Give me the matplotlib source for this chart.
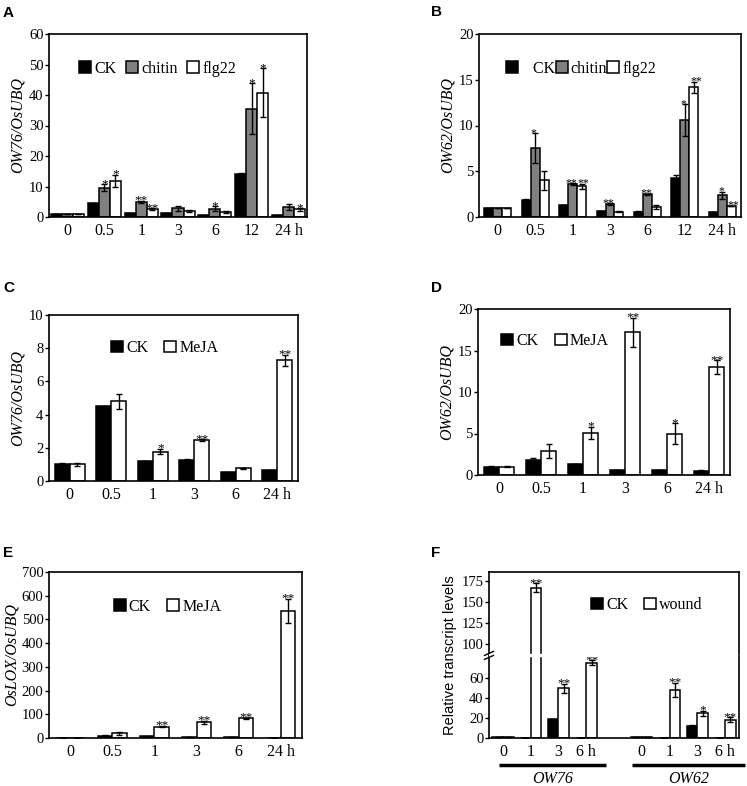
import numpy as np
import matplotlib
matplotlib.use("Agg")
import matplotlib.pyplot as plt

plt.rcParams['font.family'] = ['Liberation Serif', 'DejaVu Serif']

W, H = 747, 786

# ---------------- data ----------------
timesA = ["0", "0.5", "1", "3", "6", "12", "24 h"]
A_ck = [1.0, 4.5, 1.2, 1.3, 0.5, 14.1, 0.5]
A_ck_err = [0.1, 0.1, 0.1, 0.15, 0.05, 0.2, 0.05]
A_chitin = [1.0, 9.6, 4.9, 2.8, 2.7, 35.5, 3.3]
A_chitin_err = [0.1, 1.2, 0.4, 0.8, 0.8, 8.3, 1.0]
A_flg22 = [1.0, 11.9, 2.5, 1.9, 1.6, 40.8, 2.5]
A_flg22_err = [0.1, 1.9, 0.3, 0.3, 0.4, 8.0, 0.4]
A_chitin_sig = ["", "*", "**", "", "*", "*", ""]
A_flg22_sig = ["", "*", "**", "", "", "*", "*"]

B_ck = [1.0, 1.85, 1.3, 0.65, 0.6, 4.3, 0.55]
B_ck_err = [0.03, 0.15, 0.05, 0.03, 0.03, 0.25, 0.03]
B_chitin = [1.0, 7.55, 3.6, 1.4, 2.5, 10.55, 2.35]
B_chitin_err = [0.03, 1.6, 0.1, 0.1, 0.05, 1.75, 0.4]
B_flg22 = [1.0, 4.0, 3.35, 0.6, 1.1, 14.2, 1.2]
B_flg22_err = [0.03, 1.0, 0.25, 0.03, 0.2, 0.6, 0.05]
B_chitin_sig = ["", "*", "**", "**", "**", "*", "*"]
B_flg22_sig = ["", "", "**", "", "", "**", "**"]

timesC = ["0", "0.5", "1", "3", "6", "24 h"]
C_ck = [1.0, 4.5, 1.2, 1.27, 0.52, 0.66]
C_ck_err = [0.08, 0.03, 0.02, 0.07, 0.04, 0.03]
C_meja = [1.0, 4.8, 1.77, 2.45, 0.76, 7.27]
C_meja_err = [0.1, 0.45, 0.17, 0.07, 0.03, 0.35]
C_meja_sig = ["", "", "*", "**", "", "**"]

D_ck = [1.0, 1.8, 1.33, 0.6, 0.6, 0.52]
D_ck_err = [0.03, 0.2, 0.05, 0.03, 0.03, 0.03]
D_meja = [1.0, 2.9, 5.06, 17.2, 5.0, 13.0]
D_meja_err = [0.03, 0.85, 0.75, 1.75, 1.25, 0.8]
D_meja_sig = ["", "", "*", "**", "*", "**"]

E_ck = [1, 10, 7, 3, 3, 1]
E_ck_err = [0, 1, 1, 0.5, 0.5, 0]
E_meja = [1, 19, 48, 66, 84, 536]
E_meja_err = [0, 5, 3, 6, 2, 52]
E_meja_sig = ["", "", "**", "**", "**", "**"]

F_pos = [0, 1, 2, 3, 5, 6, 7, 8]
F_labels = ["0", "1", "3", "6 h", "0", "1", "3", "6 h"]
F_genes = ["OW76", "OW62"]
F_ck = [0.5, 0.3, 18.5, 0.3, 0.5, 0.3, 11.9, 0.3]
F_ck_err = [0, 0, 0.6, 0, 0, 0, 0.6, 0]
F_wound = [0.5, 167.5, 49.5, 74.6, 0.5, 47.9, 24.8, 18.2]
F_wound_err = [0, 5, 4.6, 2.5, 0, 7, 2.5, 2.5]
F_wound_sig = ["", "**", "**", "**", "", "**", "*", "**"]

GRAY = "#808080"


def px_rect(l, t, r, b):
    return [l / W, 1 - b / H, (r - l) / W, (b - t) / H]


def style(ax, ylim, yticks):
    ax.set_ylim(*ylim)
    ax.set_yticks(yticks)
    ax.tick_params(axis='y', direction='out', length=3, width=1, labelsize=10.5, pad=1)
    ax.tick_params(axis='x', length=0, labelsize=11.5, pad=4)
    for s in ax.spines.values():
        s.set_linewidth(1.2)


def draw_bars(ax, x, series, errs, colors, labels, sigs, width, star_dx=None, star_fs=9.5):
    n = len(series)
    x = np.asarray(x, dtype=float)
    if star_dx is None:
        star_dx = [0] * n
    for i in range(n):
        off = (i - (n - 1) / 2) * width
        ax.bar(x + off, series[i], width, yerr=errs[i], color=colors[i],
               edgecolor='black', linewidth=1.1, label=labels[i],
               error_kw=dict(elinewidth=1, capsize=2.5, capthick=1, ecolor='black'))
        if sigs[i] is None:
            continue
        for xi, v, e, s in zip(x + off, series[i], errs[i], sigs[i]):
            if s:
                ax.annotate(s, (xi, v + e), xytext=(star_dx[i], -2), textcoords='offset points',
                            ha='center', va='baseline', fontsize=star_fs)


def legend(ax, cx, cy, cs=1.0):
    ax.legend(loc='center', bbox_to_anchor=(cx, cy), ncol=3, frameon=False,
              fontsize=11.5, handlelength=0.75, handleheight=0.75, handletextpad=0.2,
              columnspacing=cs, borderpad=0)


fig = plt.figure(figsize=(W / 100, H / 100), dpi=100)

# ---- A ----
ax = fig.add_axes(px_rect(49, 34, 307, 217))
draw_bars(ax, range(7), [A_ck, A_chitin, A_flg22], [A_ck_err, A_chitin_err, A_flg22_err],
          ['black', GRAY, 'white'], ['CK', 'chitin', 'flg22'],
          [None, A_chitin_sig, A_flg22_sig], 0.3)
ax.set_xlim(-0.5, 6.5)
ax.set_xticks(range(7), timesA)
style(ax, (0, 60), range(0, 61, 10))
ax.set_ylabel("OW76/OsUBQ", style='italic', fontsize=11.5, labelpad=2)
legend(ax, 0.42, 0.81, 0.6)

# ---- B ----
ax = fig.add_axes(px_rect(479, 34, 741, 217))
draw_bars(ax, range(7), [B_ck, B_chitin, B_flg22], [B_ck_err, B_chitin_err, B_flg22_err],
          ['black', GRAY, 'white'], ['   CK', 'chitin', 'flg22'],
          [None, B_chitin_sig, B_flg22_sig], 0.24, star_dx=[0, -1, 1.5], star_fs=8.5)
ax.set_xlim(-0.5, 6.5)
ax.set_xticks(range(7), timesA)
style(ax, (0, 20), range(0, 21, 5))
ax.set_ylabel("OW62/OsUBQ", style='italic', fontsize=11.5, labelpad=2)
legend(ax, 0.39, 0.81, 0.0)

# ---- C ----
ax = fig.add_axes(px_rect(49, 315, 298, 481))
draw_bars(ax, range(6), [C_ck, C_meja], [C_ck_err, C_meja_err],
          ['black', 'white'], ['CK', 'MeJA'], [None, C_meja_sig], 0.36)
ax.set_xlim(-0.5, 5.5)
ax.set_xticks(range(6), timesC)
style(ax, (0, 10), range(0, 11, 2))
ax.set_ylabel("OW76/OsUBQ", style='italic', fontsize=11.5, labelpad=2)
legend(ax, 0.464, 0.80)

# ---- D ----
ax = fig.add_axes(px_rect(478, 309, 730, 475))
draw_bars(ax, range(6), [D_ck, D_meja], [D_ck_err, D_meja_err],
          ['black', 'white'], ['CK', 'MeJA'], [None, D_meja_sig], 0.36)
ax.set_xlim(-0.5, 5.5)
ax.set_xticks(range(6), timesC)
style(ax, (0, 20), range(0, 21, 5))
ax.set_ylabel("OW62/OsUBQ", style='italic', fontsize=11.5, labelpad=2)
legend(ax, 0.306, 0.807)

# ---- E ----
ax = fig.add_axes(px_rect(49, 572, 302, 738))
draw_bars(ax, range(6), [E_ck, E_meja], [E_ck_err, E_meja_err],
          ['black', 'white'], ['CK', 'MeJA'], [None, E_meja_sig], 0.34)
ax.set_xlim(-0.5, 5.5)
ax.set_xticks(range(6), timesC)
style(ax, (0, 700), range(0, 701, 100))
ax.set_ylabel("OsLOX/OsUBQ", style='italic', fontsize=11.5, labelpad=1)
legend(ax, 0.468, 0.79)

# ---- F (broken y axis) ----
brk_x = [-1000, 0, 81, 88, 1000]
brk_y = [-1000, 0, 81, 83, 83 + 912 * 0.835]


def fwd(v):
    return np.interp(v, brk_x, brk_y)


def inv(v):
    return np.interp(v, brk_y, brk_x)


ax = fig.add_axes(px_rect(489, 572, 739, 738))
ax.set_yscale('function', functions=(fwd, inv))
draw_bars(ax, F_pos, [F_ck, F_wound], [F_ck_err, F_wound_err],
          ['black', 'white'], ['CK', 'wound'], [None, F_wound_sig], 0.385)
ax.set_xlim(-0.5, 8.5)
ax.set_xticks(F_pos, F_labels)
style(ax, (0, 186), [0, 20, 40, 60, 100, 125, 150, 175])
ax.minorticks_off()
ax.set_ylabel("Relative transcript levels", family='Liberation Sans', fontsize=10.5, labelpad=3)
legend(ax, 0.632, 0.80)
# axis break
ax.axhspan(81.3, 87.7, xmin=0, xmax=0.99, color='white', zorder=3)
fb = (fwd(84.5) - fwd(0)) / (fwd(186) - fwd(0))
for dy in (-0.012, 0.012):
    ax.plot([-0.018, 0.018], [fb + dy - 0.012, fb + dy + 0.012], transform=ax.transAxes,
            color='black', lw=1, clip_on=False, zorder=4)
# gene underlines
for gi, gene in enumerate(F_genes):
    x0, x1 = (-0.14, 3.72) if gi == 0 else (4.65, 8.72)
    ax.plot([x0, x1], [-0.16, -0.16], transform=ax.get_xaxis_transform(), color='black',
            lw=2.5, clip_on=False, solid_capstyle='butt')
    ax.text((x0 + x1) / 2, -0.245, gene, transform=ax.get_xaxis_transform(),
            ha='center', va='center', style='italic', fontsize=11.5)

# panel letters
for lab, x, y in [("A", 3, 13), ("B", 431, 12), ("C", 3, 288), ("D", 431, 288),
                  ("E", 3, 553), ("F", 431, 553)]:
    fig.text(x / W, 1 - y / H, lab, family='Liberation Sans', weight='bold',
             fontsize=11, ha='left', va='center')

fig.savefig("out.png", dpi=100)
